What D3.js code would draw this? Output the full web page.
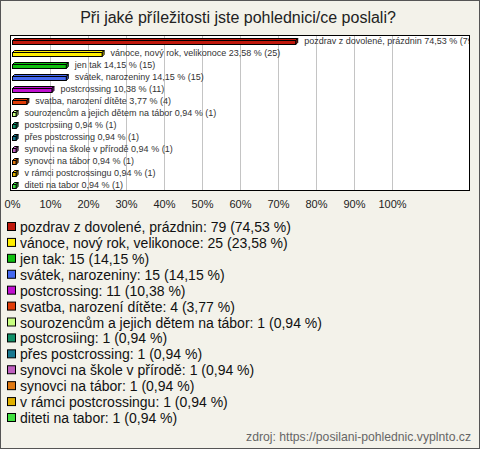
<!DOCTYPE html>
<html><head><meta charset="utf-8">
<script src="https://cdn.jsdelivr.net/npm/d3@7"></script>
<style>body{margin:0;background:#f3f2ea}svg{display:block}</style>
</head><body>
<script>
const categories = ["pozdrav z dovolené, prázdnin","vánoce, nový rok, velikonoce","jen tak","svátek, narozeniny","postcrossing","svatba, narození dítěte","sourozencům a jejich dětem na tábor","postcrosiing","přes postcrossing","synovci na škole v přírodě","synovci na tábor","v rámci postcrossingu","diteti na tabor"];
const counts = [79,25,15,15,11,4,1,1,1,1,1,1,1];
const percents = [74.53,23.58,14.15,14.15,10.38,3.77,0.94,0.94,0.94,0.94,0.94,0.94,0.94];
const colors = ["#c0180c","#ffee00","#10c010","#4468f0","#c010d0","#e03c08","#c8ff80","#109068","#187890","#c060c0","#e07810","#e0b000","#40e040"];
const tickValues = [0,10,20,30,40,50,60,70,80,90,100];
const title = "Při jaké příležitosti jste pohlednici/ce poslali?";
const source = "zdroj: https://posilani-pohlednic.vyplnto.cz";

const W=480,H=449;
const svg=d3.select("body").append("svg").attr("width",W).attr("height",H);
svg.append("rect").attr("x",0.5).attr("y",0.5).attr("width",W-1).attr("height",H-1).attr("fill","#f3f2ea").attr("stroke","#555");
svg.append("text").attr("x",238).attr("y",23).attr("text-anchor","middle").attr("font-family","Liberation Sans, Arial, sans-serif").attr("font-size",16).attr("fill","#222").text(title);

const pL=10,pR=470,pT=35,pB=191;
const x=d3.scaleLinear().domain([0,100]).range([12,392]);
const y=d3.scaleBand().domain(categories).range([pT,pB]);
const fmt=v=>v.toFixed(2).replace(".",",");

svg.append("rect").attr("x",pL+0.5).attr("y",pT+0.5).attr("width",pR-pL-1).attr("height",pB-pT-1).attr("fill","#fff");
const grid=svg.append("g");
grid.selectAll("line").data(tickValues.slice(1)).join("line")
  .attr("x1",d=>Math.round(x(d))+0.5).attr("x2",d=>Math.round(x(d))+0.5).attr("y1",pT+1).attr("y2",pB-1)
  .attr("stroke","#c4c4c4");
const ax=svg.append("g").attr("transform",`translate(0,${pB})`)
  .call(d3.axisBottom(x).tickValues(tickValues).tickFormat(d=>d+"%").tickSize(0).tickPadding(9));
ax.select(".domain").remove();
ax.selectAll("text").attr("font-family","Liberation Sans, Arial, sans-serif").attr("font-size",11).attr("fill","#222");

svg.append("clipPath").attr("id","pc").append("rect").attr("x",pL).attr("y",pT).attr("width",pR-pL).attr("height",pB-pT);
const bars=svg.append("g").attr("clip-path","url(#pc)");
const d=2,h=4;
const rows=bars.selectAll("g").data(categories.map((c,i)=>({c,i,p:percents[i],n:counts[i]}))).join("g");
rows.each(function(r){
  const g=d3.select(this);
  const cy=y(r.c)+y.bandwidth()/2;
  const x0=x(0)+0.5, x1=Math.max(x(r.p),x0+2)+0.5, yt=Math.round(cy-h/2+1)+0.5;
  const col=colors[r.i];
  g.append("path").attr("d",`M${x0},${yt}L${x0+d},${yt-d}L${x1+d},${yt-d}L${x1},${yt}Z`).attr("fill",col).attr("stroke","#000").attr("stroke-width",1);
  g.append("path").attr("d",`M${x1},${yt}L${x1+d},${yt-d}L${x1+d},${yt+h-d}L${x1},${yt+h}Z`).attr("fill",d3.color(col).darker(0.6)).attr("stroke","#000").attr("stroke-width",1);
  g.append("rect").attr("x",x0).attr("y",yt).attr("width",x1-x0).attr("height",h).attr("fill",col).attr("stroke","#000").attr("stroke-width",1);
  g.append("text").attr("x",x(r.p)+9).attr("y",cy+3).attr("font-family","Liberation Sans, Arial, sans-serif").attr("font-size",9).attr("fill","#333")
    .text(`${r.c} ${fmt(r.p)} % (${r.n})`);
});
svg.append("rect").attr("x",pL+0.5).attr("y",pT+0.5).attr("width",pR-pL-1).attr("height",pB-pT-1).attr("fill","none").attr("stroke","#000");

const leg=svg.append("g");
const ly=d3.scalePoint().domain(categories).range([227,418]);
const li=leg.selectAll("g").data(categories).join("g").attr("transform",c=>`translate(0,${ly(c)})`);
li.append("rect").attr("x",7.5).attr("y",-4.5).attr("width",8).attr("height",8).attr("fill",(c,i)=>colors[i]).attr("stroke","#000");
li.append("text").attr("x",20).attr("y",5).attr("font-family","Liberation Sans, Arial, sans-serif").attr("font-size",14).attr("fill","#111")
  .text((c,i)=>`${c}: ${counts[i]} (${fmt(percents[i])} %)`);

svg.append("text").attr("x",471).attr("y",441).attr("text-anchor","end").attr("font-family","Liberation Sans, Arial, sans-serif").attr("font-size",12.2).attr("fill","#666").text(source);
</script>
</body></html>
